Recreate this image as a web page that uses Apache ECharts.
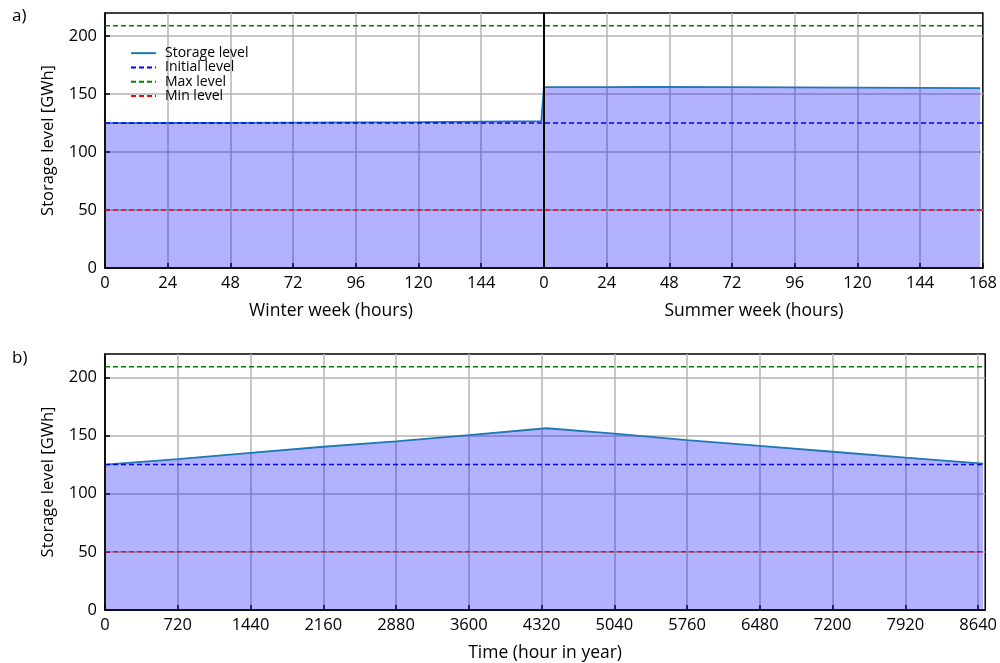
<!DOCTYPE html>
<html>
<head>
<meta charset="utf-8">
<script src="https://cdn.jsdelivr.net/npm/echarts@6/dist/echarts.min.js"></script>
<style>html,body{margin:0;padding:0;background:#fff}#c{width:1000px;height:663px}</style>
</head>
<body>
<div id="c"></div>
<script>
// ---- data ----
const winterHours = [0, 24, 48, 72, 96, 120, 144, 167];
const winterLevel = [125.0, 125.1, 125.2, 125.4, 125.6, 125.9, 126.3, 126.7];
const summerHours = [0, 24, 40, 72, 96, 120, 144, 167];
const summerLevel = [156.0, 156.1, 156.3, 156.0, 155.8, 155.6, 155.4, 155.2];
const yearHours = [0, 720, 1440, 2160, 2880, 3600, 4368, 5040, 5760, 6480, 7200, 7920, 8690];
const yearLevel = [125.0, 129.6, 135.0, 140.3, 145.0, 150.3, 156.2, 151.5, 146.0, 141.0, 136.0, 131.0, 125.8];
const initialLevel = 125;
const maxLevel = 209;
const minLevel = 50;
const weekLen = 168;
const yearAxisMax = 8710;
const yearDataEnd = 8690;

const FONT = 'Open Sans';
const weekData = winterHours.map((h, i) => [h, winterLevel[i]])
  .concat(summerHours.map((h, i) => [h + weekLen, summerLevel[i]]));
const yearData = yearHours.map((h, i) => [h, yearLevel[i]]);

const chart = echarts.init(document.getElementById('c'), null, {renderer: 'canvas'});

function xAx(grid, max, interval, fmt, showMax, name) {
  return {
    type: 'value', gridIndex: grid, min: 0, max: max, interval: interval,
    axisLine: {onZero: false, lineStyle: {color: '#000', width: 1.5}},
    axisTick: {inside: true, length: 5, lineStyle: {color: '#000', width: 1.5}},
    axisLabel: {color: '#000', fontFamily: FONT, fontSize: 16.5, margin: 7, formatter: fmt, showMaxLabel: showMax},
    splitLine: {show: true, showMaxLine: false, showMinLine: false, lineStyle: {color: '#b4b4b4', width: 1.5}},
    name: name || '', nameLocation: 'middle', nameGap: 34,
    nameTextStyle: {color: '#000', fontFamily: FONT, fontSize: 17.5}
  };
}
function yAx(grid) {
  return {
    type: 'value', gridIndex: grid, min: 0, max: 220, interval: 50,
    axisLine: {show: true, lineStyle: {color: '#000', width: 1.5}},
    axisTick: {show: true, inside: true, length: 5, lineStyle: {color: '#000', width: 1.5}},
    axisLabel: {color: '#000', fontFamily: FONT, fontSize: 16.5, margin: 8, showMaxLabel: false},
    splitLine: {show: true, showMaxLine: false, showMinLine: false, lineStyle: {color: '#b4b4b4', width: 1.5}},
    name: 'Storage level [GWh]', nameLocation: 'middle', nameGap: 48,
    nameTextStyle: {color: '#000', fontFamily: FONT, fontSize: 16.5}
  };
}
function hline(name, grid, y, xEnd, color) {
  return {
    name: name, type: 'line', xAxisIndex: grid, yAxisIndex: grid,
    data: [[0, y], [xEnd, y]], showSymbol: false, symbol: 'none', silent: true, z: 4,
    lineStyle: {color: color, width: 1.5, type: [5, 3]}
  };
}
const storageStyle = {
  type: 'line', showSymbol: false, symbol: 'none', silent: true, z: 3,
  lineStyle: {color: '#1f77b4', width: 1.8},
  itemStyle: {color: '#1f77b4'},
  areaStyle: {color: '#0000ff', opacity: 0.3, origin: 'start'}
};

chart.setOption({
  animation: false,
  grid: [
    {left: 105, top: 13, width: 880, height: 255, show: true, borderColor: '#000', borderWidth: 1.5},
    {left: 105, top: 354, width: 881, height: 256, show: true, borderColor: '#000', borderWidth: 1.5}
  ],
  xAxis: [
    xAx(0, 2 * weekLen, 24, v => String(v < weekLen ? v : v - weekLen), true),
    xAx(1, yearAxisMax, 720, v => String(v), false, 'Time (hour in year)')
  ],
  yAxis: [yAx(0), yAx(1)],
  legend: {
    left: 130, top: 46, orient: 'vertical', itemGap: 0, itemWidth: 25, itemHeight: 10,
    padding: 0, selectedMode: false,
    itemStyle: {opacity: 0},
    textStyle: {color: '#000', fontFamily: FONT, fontSize: 14, lineHeight: 14.3, padding: [0, 0, 0, 4]},
    data: ['Storage level', 'Initial level', 'Max level', 'Min level']
  },
  graphic: [
    {type: 'text', left: 12, top: 8, style: {text: 'a)', font: '17px "Open Sans"', fill: '#000'}},
    {type: 'text', left: 12, top: 350, style: {text: 'b)', font: '17px "Open Sans"', fill: '#000'}},
    {type: 'text', x: 331, y: 311, style: {text: 'Winter week (hours)', font: '17.5px "Open Sans"', fill: '#000', textAlign: 'center', textVerticalAlign: 'middle'}},
    {type: 'text', x: 754, y: 311, style: {text: 'Summer week (hours)', font: '17.5px "Open Sans"', fill: '#000', textAlign: 'center', textVerticalAlign: 'middle'}}
  ],
  series: [
    Object.assign({}, storageStyle, {
      name: 'Storage level', xAxisIndex: 0, yAxisIndex: 0, data: weekData,
      markLine: {silent: true, symbol: ['none', 'none'], label: {show: false},
        lineStyle: {color: '#000', type: 'solid', width: 2}, data: [{xAxis: weekLen}]}
    }),
    hline('Initial level', 0, initialLevel, 2 * weekLen, '#0000ff'),
    hline('Max level', 0, maxLevel, 2 * weekLen, '#008000'),
    hline('Min level', 0, minLevel, 2 * weekLen, '#ff0000'),
    Object.assign({}, storageStyle, {name: 'Storage level', xAxisIndex: 1, yAxisIndex: 1, data: yearData}),
    hline('Initial level', 1, initialLevel, yearDataEnd, '#0000ff'),
    hline('Max level', 1, maxLevel, yearDataEnd, '#008000'),
    hline('Min level', 1, minLevel, yearDataEnd, '#ff0000')
  ]
});
</script>
</body>
</html>
